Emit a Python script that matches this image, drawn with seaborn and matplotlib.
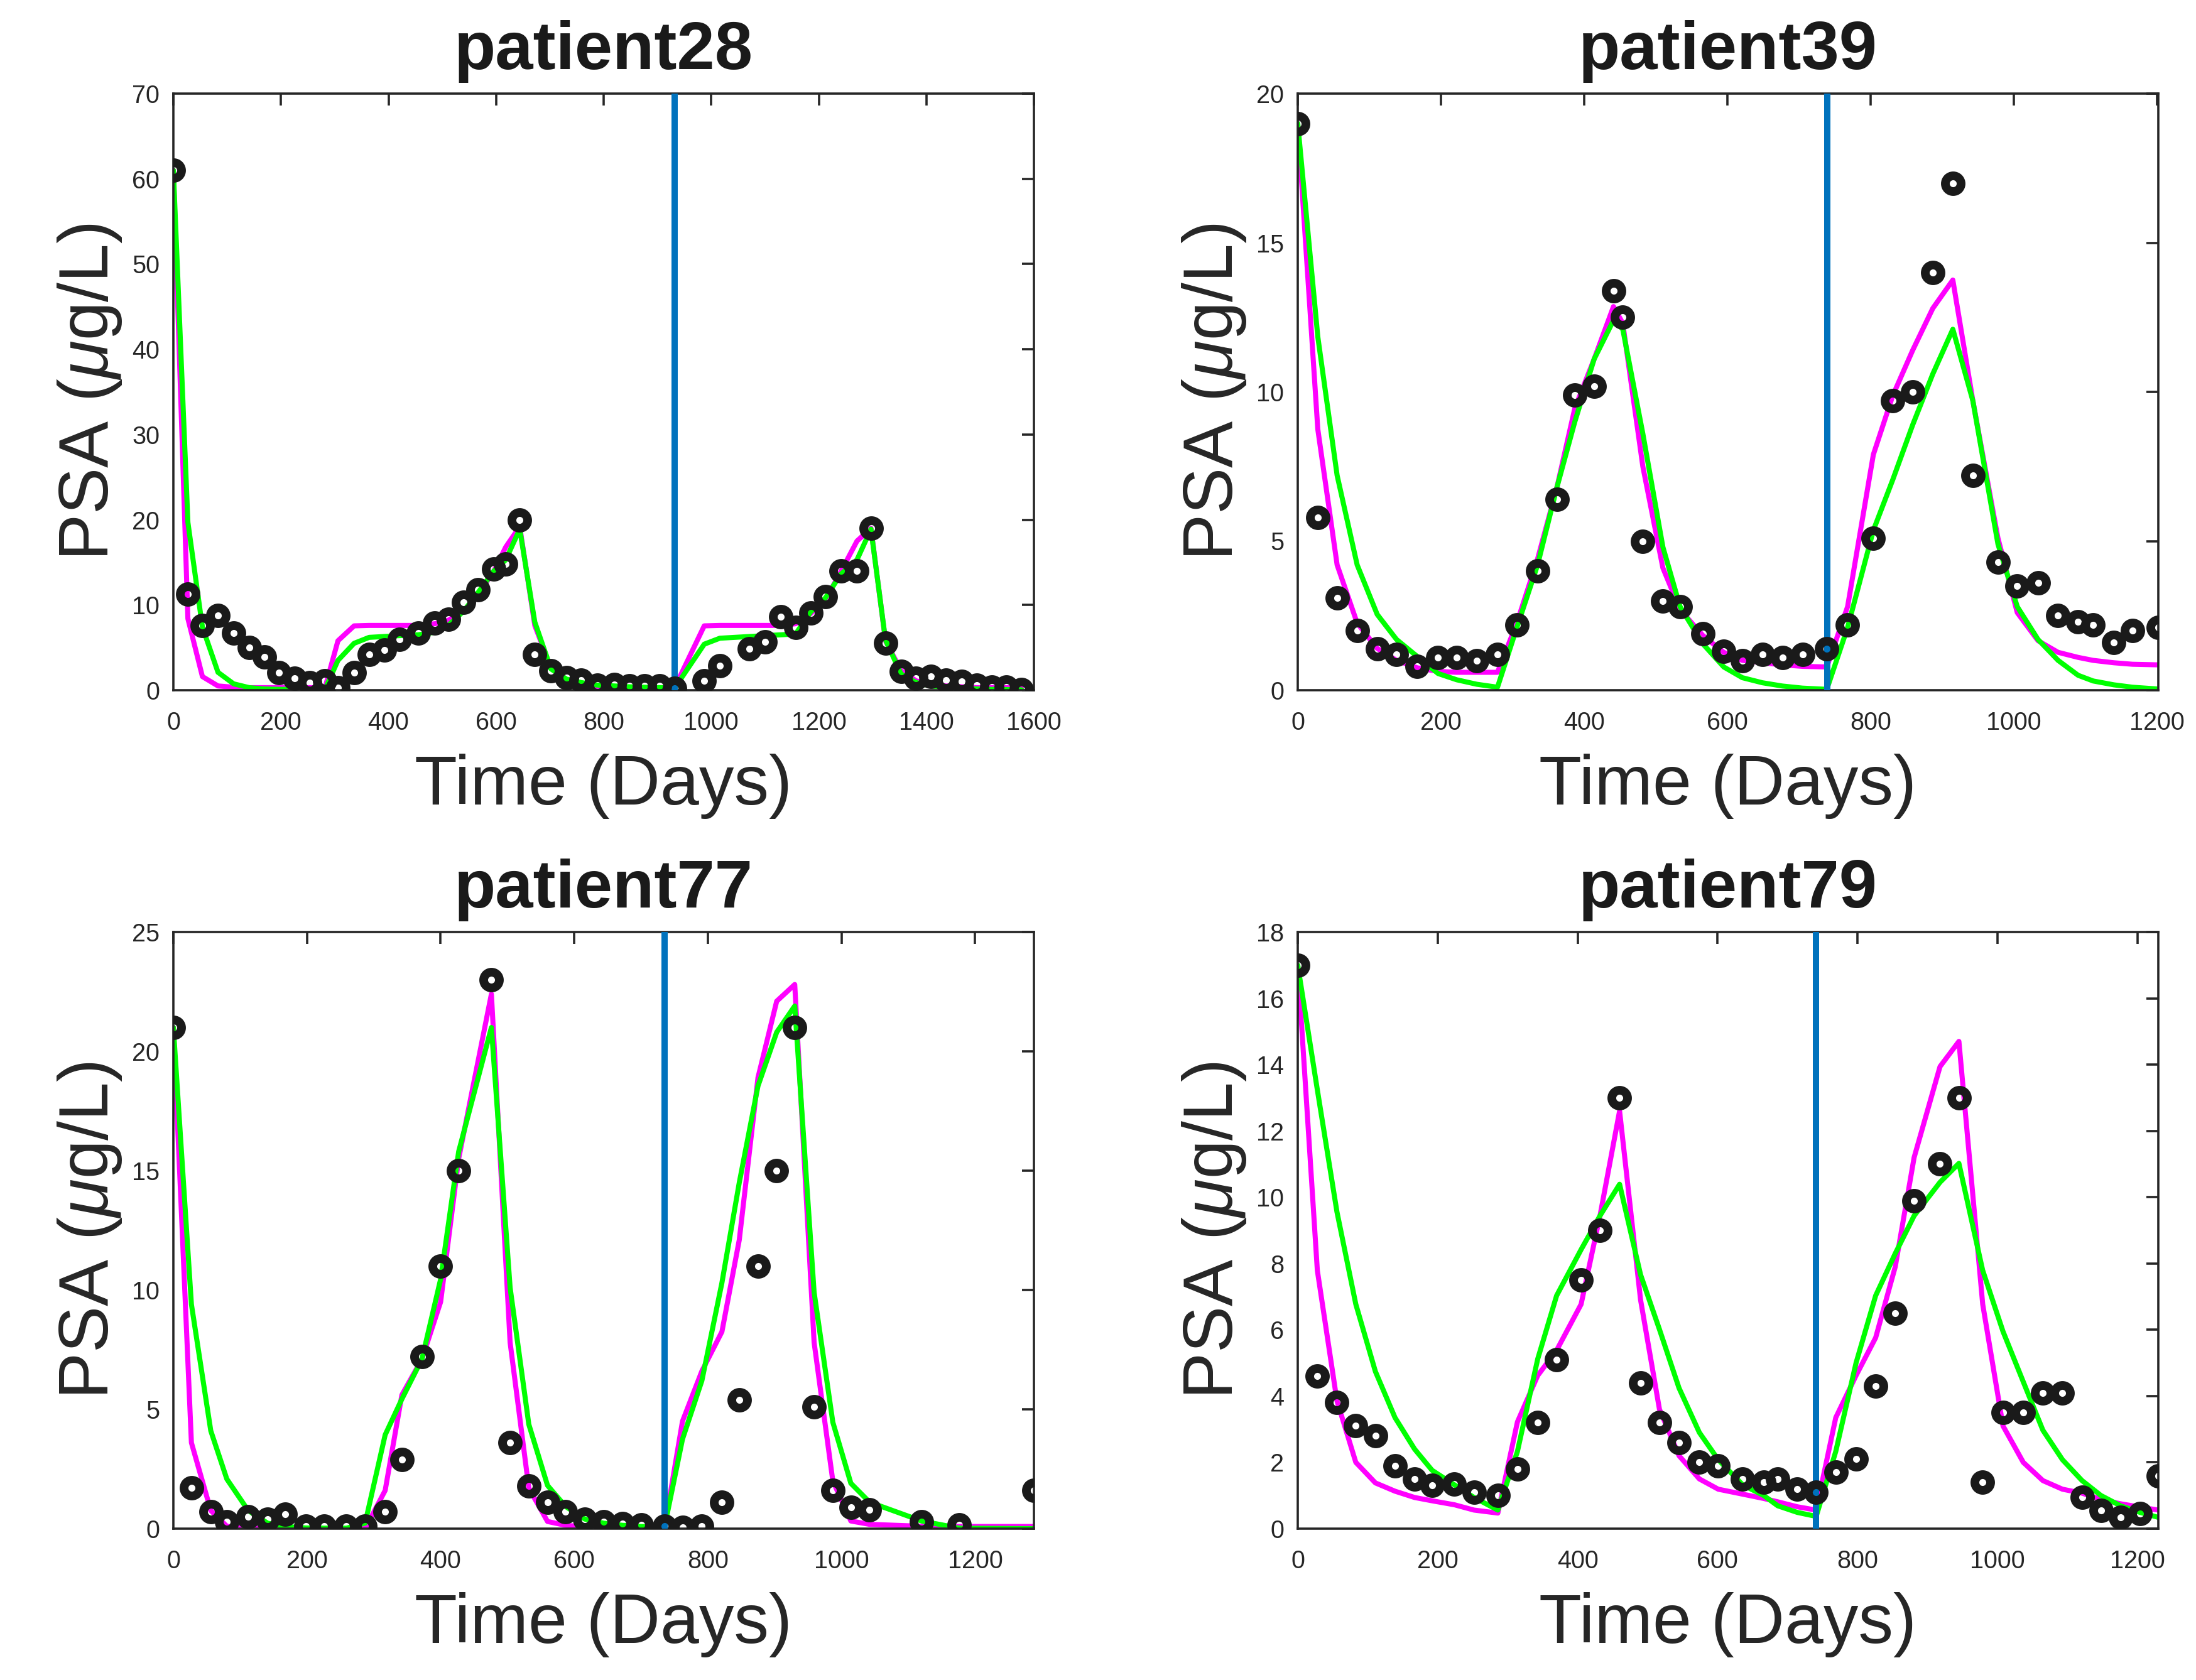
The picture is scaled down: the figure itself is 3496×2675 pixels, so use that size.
import matplotlib
matplotlib.use("Agg")
import matplotlib.pyplot as plt
import seaborn as sns

# patient28
t28 = [0, 27, 54, 83, 112, 141, 169, 196, 225, 253, 282, 306, 336, 364, 392, 420, 455, 486, 511, 540,
       567, 596, 618, 644, 672, 702, 731, 758, 788, 820, 848, 876, 904, 932, 987, 1016, 1071, 1100, 1129, 1157,
       1185, 1212, 1241, 1271, 1297, 1324, 1353, 1381, 1408, 1437, 1466, 1494, 1522, 1549, 1577]
psa28 = [61, 11.3, 7.6, 8.8, 6.7, 5.0, 3.9, 2.1, 1.4, 0.9, 1.1, 0.3, 2.1, 4.2, 4.7, 6.0, 6.7, 7.9, 8.3, 10.3,
         11.8, 14.2, 14.8, 20.0, 4.2, 2.3, 1.5, 1.2, 0.6, 0.7, 0.5, 0.5, 0.5, 0.2, 1.1, 2.9, 4.9, 5.7, 8.6, 7.4,
         9.1, 11.0, 14.0, 14.0, 19.0, 5.5, 2.2, 1.4, 1.6, 1.2, 1.0, 0.6, 0.4, 0.35, 0.1]
mag28 = [61, 8.4, 1.6, 0.5, 0.35, 0.3, 0.3, 0.3, 0.3, 0.3, 0.3, 5.8, 7.55, 7.6, 7.6, 7.6, 7.6, 7.8, 8.2, 9.3,
         11.2, 14.0, 16.8, 19.2, 7.6, 2.6, 1.1, 0.6, 0.4, 0.3, 0.3, 0.3, 0.3, 0.3, 7.55, 7.6, 7.6, 7.6, 7.6, 7.8,
         9.0, 10.6, 13.9, 17.5, 19.0, 5.8, 2.3, 1.1, 0.7, 0.5, 0.4, 0.3, 0.3, 0.3, 0.3]
grn28 = [61, 19.7, 7.4, 2.1, 0.75, 0.3, 0.15, 0.1, 0.1, 0.1, 0.1, 3.5, 5.5, 6.2, 6.3, 6.4, 6.5, 6.8, 7.6, 9.3,
         11.5, 14.0, 15.3, 18.9, 8.0, 2.5, 1.3, 0.9, 0.6, 0.5, 0.4, 0.35, 0.3, 0.25, 5.4, 6.1, 6.3, 6.4, 6.5, 6.6,
         9.2, 10.8, 13.6, 15.3, 18.9, 5.9, 1.9, 0.9, 0.5, 0.35, 0.25, 0.15, 0.1, 0.08, 0.05]

# patient39
t39 = [0, 28, 55, 83, 111, 138, 167, 196, 222, 250, 279, 306, 335, 362, 387, 414, 441, 454, 482, 510,
       534, 566, 595, 621, 649, 677, 705, 739, 768, 804, 831, 859, 887, 915, 943, 978, 1005, 1034, 1062, 1090,
       1111, 1140, 1166, 1202]
psa39 = [19, 5.8, 3.1, 2.0, 1.4, 1.2, 0.8, 1.1, 1.1, 1.0, 1.2, 2.2, 4.0, 6.4, 9.9, 10.2, 13.4, 12.5, 5.0, 3.0,
         2.8, 1.9, 1.3, 1.0, 1.2, 1.1, 1.2, 1.4, 2.2, 5.1, 9.7, 10.0, 14.0, 17.0, 7.2, 4.3, 3.5, 3.6, 2.5, 2.3,
         2.2, 1.6, 2.0, 2.1]
mag39 = [19, 8.75, 4.2, 2.25, 1.4, 1.0, 0.75, 0.63, 0.6, 0.6, 0.6, 2.25, 4.4, 6.8, 9.45, 11.1, 12.86, 12.3, 7.5, 4.1,
         2.7, 1.83, 1.27, 1.0, 0.92, 0.85, 0.8, 0.78, 2.8, 7.9, 9.87, 11.4, 12.8, 13.75, 9.7, 5.1, 2.6, 1.66, 1.27, 1.1,
         1.0, 0.92, 0.87, 0.85]
grn39 = [19, 11.85, 7.2, 4.2, 2.54, 1.7, 1.13, 0.56, 0.35, 0.2, 0.1, 2.1, 4.2, 6.8, 9.0, 11.1, 12.4, 12.1, 8.6, 4.8,
         2.8, 1.55, 0.78, 0.42, 0.25, 0.14, 0.07, 0.03, 2.1, 5.36, 7.05, 8.9, 10.6, 12.1, 9.7, 4.9, 2.8, 1.7, 1.0, 0.5,
         0.31, 0.18, 0.1, 0.04]

# patient77
t77 = [0, 27, 56, 80, 112, 141, 167, 198, 226, 259, 287, 317, 342, 372, 400, 427, 476, 504, 532, 560,
       587, 616, 644, 672, 700, 735, 762, 791, 821, 847, 875, 903, 930, 959, 987, 1014, 1042, 1120, 1176, 1288]
psa77 = [21, 1.7, 0.7, 0.3, 0.5, 0.4, 0.6, 0.1, 0.1, 0.1, 0.1, 0.7, 2.9, 7.2, 11.0, 15.0, 23.0, 3.6, 1.8, 1.1,
         0.7, 0.4, 0.3, 0.2, 0.15, 0.1, 0.05, 0.1, 1.1, 5.4, 11.0, 15.0, 21.0, 5.1, 1.6, 0.9, 0.8, 0.3, 0.15, 1.6]
mag77 = [21, 3.6, 0.76, 0.1, 0.02, 0, 0, 0, 0, 0, 0, 1.6, 5.6, 7.1, 9.5, 15.5, 22.4, 7.8, 1.7, 0.3,
         0.14, 0.08, 0.05, 0.03, 0.02, 0.0, 4.5, 6.6, 8.25, 12.1, 18.9, 22.1, 22.8, 7.8, 2.0, 0.32, 0.18, 0.1, 0.09, 0.09]
grn77 = [21, 9.4, 4.1, 2.08, 0.76, 0.23, 0.09, 0.03, 0.02, 0.02, 0.23, 3.93, 5.43, 7.1, 10.45, 15.8, 21.0, 10.1, 4.37, 1.81,
         0.93, 0.4, 0.23, 0.14, 0.09, 0.05, 3.75, 6.2, 10.3, 14.5, 18.55, 20.8, 21.9, 9.9, 4.46, 1.9, 1.11, 0.32, 0.02, 0.0]

# patient79
t79 = [0, 28, 56, 83, 111, 139, 167, 192, 224, 252, 286, 314, 343, 370, 405, 432, 460, 490, 517, 545,
       574, 601, 636, 666, 686, 714, 741, 769, 798, 826, 854, 881, 918, 945, 979, 1008, 1037, 1065, 1093, 1121,
       1148, 1176, 1204, 1230]
psa79 = [17, 4.6, 3.8, 3.1, 2.8, 1.9, 1.5, 1.3, 1.35, 1.1, 1.0, 1.8, 3.2, 5.1, 7.5, 9.0, 13.0, 4.4, 3.2, 2.6,
         2.0, 1.9, 1.5, 1.4, 1.5, 1.2, 1.1, 1.7, 2.1, 4.3, 6.5, 9.9, 11.0, 13.0, 1.4, 3.5, 3.5, 4.1, 4.1, 0.95,
         0.55, 0.35, 0.45, 1.6]
mag79 = [17, 7.79, 3.86, 2.0, 1.38, 1.13, 0.94, 0.84, 0.72, 0.56, 0.47, 3.22, 4.62, 5.38, 6.77, 9.44, 12.6, 6.9, 3.6, 2.2,
         1.5, 1.19, 1.04, 0.91, 0.81, 0.66, 0.56, 3.35, 4.62, 5.76, 7.9, 11.2, 13.94, 14.7, 6.77, 3.1, 2.0, 1.45, 1.19, 1.07,
         0.88, 0.75, 0.65, 0.56]
grn79 = [17, 13.24, 9.56, 6.77, 4.74, 3.35, 2.4, 1.76, 1.32, 0.94, 0.56, 2.33, 5.12, 7.03, 8.42, 9.44, 10.39, 7.66, 6.01, 4.24,
         2.9, 2.08, 1.32, 1.0, 0.69, 0.49, 0.37, 2.33, 5.0, 7.03, 8.3, 9.44, 10.45, 11.02, 7.79, 5.95, 4.43, 2.97, 2.08, 1.45,
         1.0, 0.69, 0.49, 0.34]

names = ["patient28", "patient39", "patient77", "patient79"]
switch_days = [932, 740, 735, 741]
x_max = [1600, 1202, 1288, 1230]
y_max = [70, 20, 25, 18]
y_step = [10, 5, 5, 2]
x_step = [200, 200, 200, 200]

sns.set_theme(style="white")
plt.rcParams["font.family"] = ["Liberation Sans", "DejaVu Sans"]
plt.rcParams["mathtext.fontset"] = "custom"
plt.rcParams["mathtext.rm"] = "Liberation Sans"
plt.rcParams["mathtext.it"] = "Liberation Sans:italic"

fig = plt.figure(figsize=(34.96, 26.75), dpi=100)
W, H = 3496, 2675
boxes = [(276, 1099, 1370), (2066, 1099, 1370), (276, 2434, 1370), (2066, 2434, 1370)]
ax_h = 950

grey = "#262626"
series = [(t28, psa28, mag28, grn28), (t39, psa39, mag39, grn39),
          (t77, psa77, mag77, grn77), (t79, psa79, mag79, grn79)]

for i, (t, psa, mag, grn) in enumerate(series):
    left, bottom, width = boxes[i]
    ax = fig.add_axes([left / W, 1 - bottom / H, width / W, ax_h / H])
    sns.lineplot(x=t, y=mag, ax=ax, color="#FF00FF", linewidth=5.8, estimator=None, sort=False)
    sns.lineplot(x=t, y=grn, ax=ax, color="#00FF00", linewidth=5.8, estimator=None, sort=False)
    ax.axvline(switch_days[i], color="#0072BD", linewidth=7.2, zorder=3)
    sns.lineplot(x=t, y=psa, ax=ax, linestyle="none", marker="o", markersize=18,
                 markerfacecolor="none", markeredgecolor="k", markeredgewidth=10,
                 color="k", estimator=None, sort=False, zorder=5)
    ax.set_xlim(0, x_max[i])
    ax.set_ylim(0, y_max[i])
    ax.set_xticks(range(0, x_max[i] + 1, x_step[i]))
    ax.set_yticks(range(0, y_max[i] + 1, y_step[i]))
    ax.tick_params(direction="in", length=14, width=2.6, top=True, right=True,
                   labelsize=28.5, colors=grey)
    ax.tick_params(axis="x", pad=23.8)
    ax.tick_params(axis="y", pad=15.8)
    for sp in ax.spines.values():
        sp.set_color(grey)
        sp.set_linewidth(2.6)
    ax.grid(False)
    ax.set_title(names[i], fontsize=78, fontweight="bold", pad=28, color="k")
    ax.set_xlabel("Time (Days)", fontsize=80, color=grey)
    ax.set_ylabel("PSA ($\\mu$g/L)", fontsize=80, color=grey)
    ax.xaxis.set_label_coords(0.5, -0.106)
    ax.yaxis.set_label_coords(-0.058, 0.5)

fig.savefig("out.png", dpi=100)
